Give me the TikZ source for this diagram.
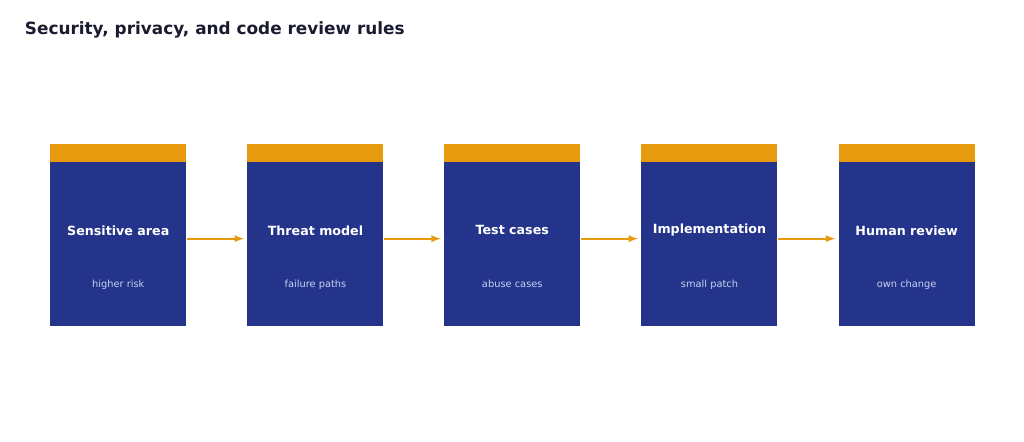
\documentclass[tikz,border=0pt]{standalone}
\usepackage{fontspec}
\setmainfont{DejaVu Sans}
\usetikzlibrary{positioning}
\definecolor{stageblue}{HTML}{23348A}
\definecolor{stagegold}{HTML}{E89A0F}
\definecolor{titleink}{HTML}{1A1B2E}
\definecolor{subink}{HTML}{C9D1F2}
\tikzset{
  stage/.style={fill=stageblue, minimum width=3.4cm, minimum height=4.1cm, inner sep=0pt, anchor=north west},
  stagetop/.style={fill=stagegold, minimum width=3.4cm, minimum height=0.45cm, inner sep=0pt, anchor=south west},
  head/.style={text=white, font=\bfseries\fontsize{9}{11}\selectfont},
  sub/.style={text=subink, font=\fontsize{7}{9}\selectfont},
  flow/.style={draw=stagegold, line width=1.3pt, -latex}
}
\begin{document}
\begin{tikzpicture}
	\useasboundingbox (0,0) rectangle (25.6,-11.025);
	\node [anchor=west, text=titleink, font=\bfseries\fontsize{12}{14}\selectfont] (title) at (0.5,-0.75) {Security, privacy, and code review rules};

	\node [stage] (s1) at (1.25,-4.05) {};
	\node [stage] (s2) at (6.18,-4.05) {};
	\node [stage] (s3) at (11.1,-4.05) {};
	\node [stage] (s4) at (16.03,-4.05) {};
	\node [stage] (s5) at (20.96,-4.05) {};

	\foreach \i/\h/\s in {1/Sensitive area/higher risk, 2/Threat model/failure paths, 3/Test cases/abuse cases, 4/Implementation/small patch, 5/Human review/own change} {
		\node [stagetop] at (s\i.north west) {};
		\node [head] at ([yshift=0.35cm]s\i.center) {\h};
		\node [sub] at ([yshift=-1.0cm]s\i.center) {\s};
	}

	\draw
	([yshift=0.14cm]s1.east) edge [flow] ([yshift=0.14cm,xshift=-0.08cm]s2.west)
	([yshift=0.14cm]s2.east) edge [flow] ([yshift=0.14cm,xshift=-0.08cm]s3.west)
	([yshift=0.14cm]s3.east) edge [flow] ([yshift=0.14cm,xshift=-0.08cm]s4.west)
	([yshift=0.14cm]s4.east) edge [flow] ([yshift=0.14cm,xshift=-0.08cm]s5.west);
\end{tikzpicture}
\end{document}
